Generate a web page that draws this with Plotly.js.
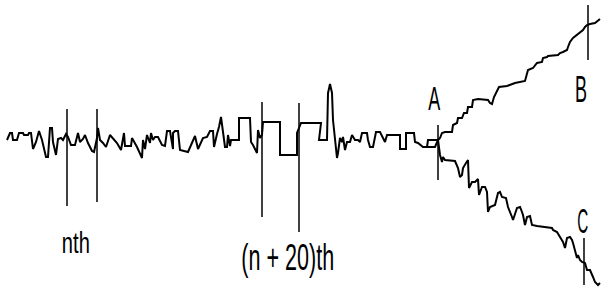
<!DOCTYPE html>
<html>
<head>
<meta charset="utf-8">
<script src="https://cdn.plot.ly/plotly-3.0.1.min.js"></script>
<style>html,body{margin:0;padding:0;background:#fff;}#chart{width:603px;height:290px;}</style>
</head>
<body>
<div id="chart"></div>
<script>
// Main signal (before the split at A)
const mainX = [7,10,12,13,17,19,23,24,28,29,31,33,36,39,42,46,48,50,52,53,56,58,61,63,66,68,71,75,78,80,83,85,88,92,94,97,98,100,103,106,110,113,117,121,124,125,131,132,137,142,143,145,147,150,151,153,155,158,162,165,167,170,173,173,175,178,180,188,192,195,198,200,203,207,210,213,214,217,219,221,223,225,227,228,230,231,239,239,250,251,253,257,258,260,262,263,280,280,297,297,299,301,321,319,327,328,330,332,333,335,337,338,340,342,343,345,347,350,352,355,358,360,362,367,368,370,373,376,380,383,385,387,400,400,406,406,414,415,418,423,435,438];
const mainY = [140,133,133,140,140,133,133,135,135,133,133,149,142,131,140,157,157,128,128,142,155,139,138,140,134,137,145,145,133,142,139,135,143,151,152,138,128,140,143,147,135,138,143,150,133,146,146,138,147,158,140,149,135,143,133,140,137,137,145,146,131,131,149,133,131,131,150,152,143,136,149,145,138,137,131,131,147,134,127,117,131,147,147,135,146,140,140,118,118,142,145,153,130,138,135,122,122,155,155,133,128,123,123,140,140,93,84,93,120,137,158,153,138,142,137,150,142,142,135,140,140,142,133,133,140,147,147,132,132,138,142,135,135,149,149,133,133,142,143,147,147,140];

// Upper branch A -> B
const branchBX = [427,428,438,440,442,445,452,453,457,458,462,464,467,468,472,473,478,488,490,492,494,497,499,507,515,525,527,528,533,535,537,542,543,547,548,558,560,563,567,568,570,573,577,580,583,585,587,590,595,600];
const branchBY = [147,140,140,138,133,132,132,125,123,118,118,113,113,107,107,100,99,100,103,104,97,90,87,86,83,81,75,70,68,65,63,62,58,57,56,55,53,52,50,47,42,38,35,33,30,27,25,24,23,19];

// Lower branch A -> C
const branchCX = [438,440,442,443,445,455,458,460,462,463,466,468,469,472,475,478,479,482,485,487,488,490,495,498,500,502,506,508,512,513,517,520,522,523,525,527,530,532,537,543,552,553,557,560,563,565,567,570,572,573,575,577,578,580,582,585,587,590,593,595,598,600];
const branchCY = [140,155,162,157,160,161,168,177,175,168,163,160,188,182,182,179,195,187,187,192,212,207,205,193,192,197,198,207,217,220,208,207,212,215,225,217,216,225,226,227,228,230,232,237,242,248,238,237,240,243,250,258,255,260,262,263,270,270,277,282,285,283];

// Vertical marker lines: x position, top, bottom
const markerX   = [67, 97, 262, 299, 438, 588, 584];
const markerTop = [109,109,102,103,125,5,238];
const markerBot = [206,202,217,232,180,60,285];

// Labels
const labelText = ["nth", "(n + 20)th", "A", "B", "C"];
const labelX    = [76, 287, 434, 581, 582];
const labelY    = [242, 257, 98, 89, 220];
const labelSize = [30, 37, 34, 36, 35];
const labelWidth = [28, 93, 12, 12, 11];   // narrow lettering of the original

const traces = [];
const lineStyle = {color:'#000', width:2};
traces.push({x: mainX, y: mainY, mode:'lines', line: lineStyle, hoverinfo:'skip'});
traces.push({x: branchBX, y: branchBY, mode:'lines', line: lineStyle, hoverinfo:'skip'});
traces.push({x: branchCX, y: branchCY, mode:'lines', line: lineStyle, hoverinfo:'skip'});
for (let i = 0; i < markerX.length; i++) {
  traces.push({x:[markerX[i], markerX[i]], y:[markerTop[i], markerBot[i]], mode:'lines',
    line:{color:'#000', width:1.5}, hoverinfo:'skip'});
}

const annotations = labelText.map((t, i) => ({
  x: labelX[i], y: labelY[i], xref:'x', yref:'y', text: t, showarrow:false,
  font:{family:'"Liberation Sans", Arial, sans-serif', size:labelSize[i], color:'#000'},
  xanchor:'center', yanchor:'middle'
}));

const layout = {
  width:603, height:290,
  margin:{l:0, r:0, t:0, b:0, pad:0},
  paper_bgcolor:'#fff', plot_bgcolor:'#fff',
  showlegend:false,
  xaxis:{range:[0,603], visible:false, fixedrange:true},
  yaxis:{range:[290,0], visible:false, fixedrange:true},
  annotations: annotations
};

Plotly.newPlot('chart', traces, layout, {staticPlot:true, displayModeBar:false}).then(() => {
  // condense the label lettering horizontally, as in the original
  document.querySelectorAll('#chart g.annotation').forEach(g => {
    const idx = +g.getAttribute('data-index');
    const txt = g.querySelector('text.annotation-text');
    if (txt && !isNaN(idx)) {
      txt.setAttribute('textLength', labelWidth[idx]);
      txt.setAttribute('lengthAdjust', 'spacingAndGlyphs');
    }
  });
});
</script>
</body>
</html>
